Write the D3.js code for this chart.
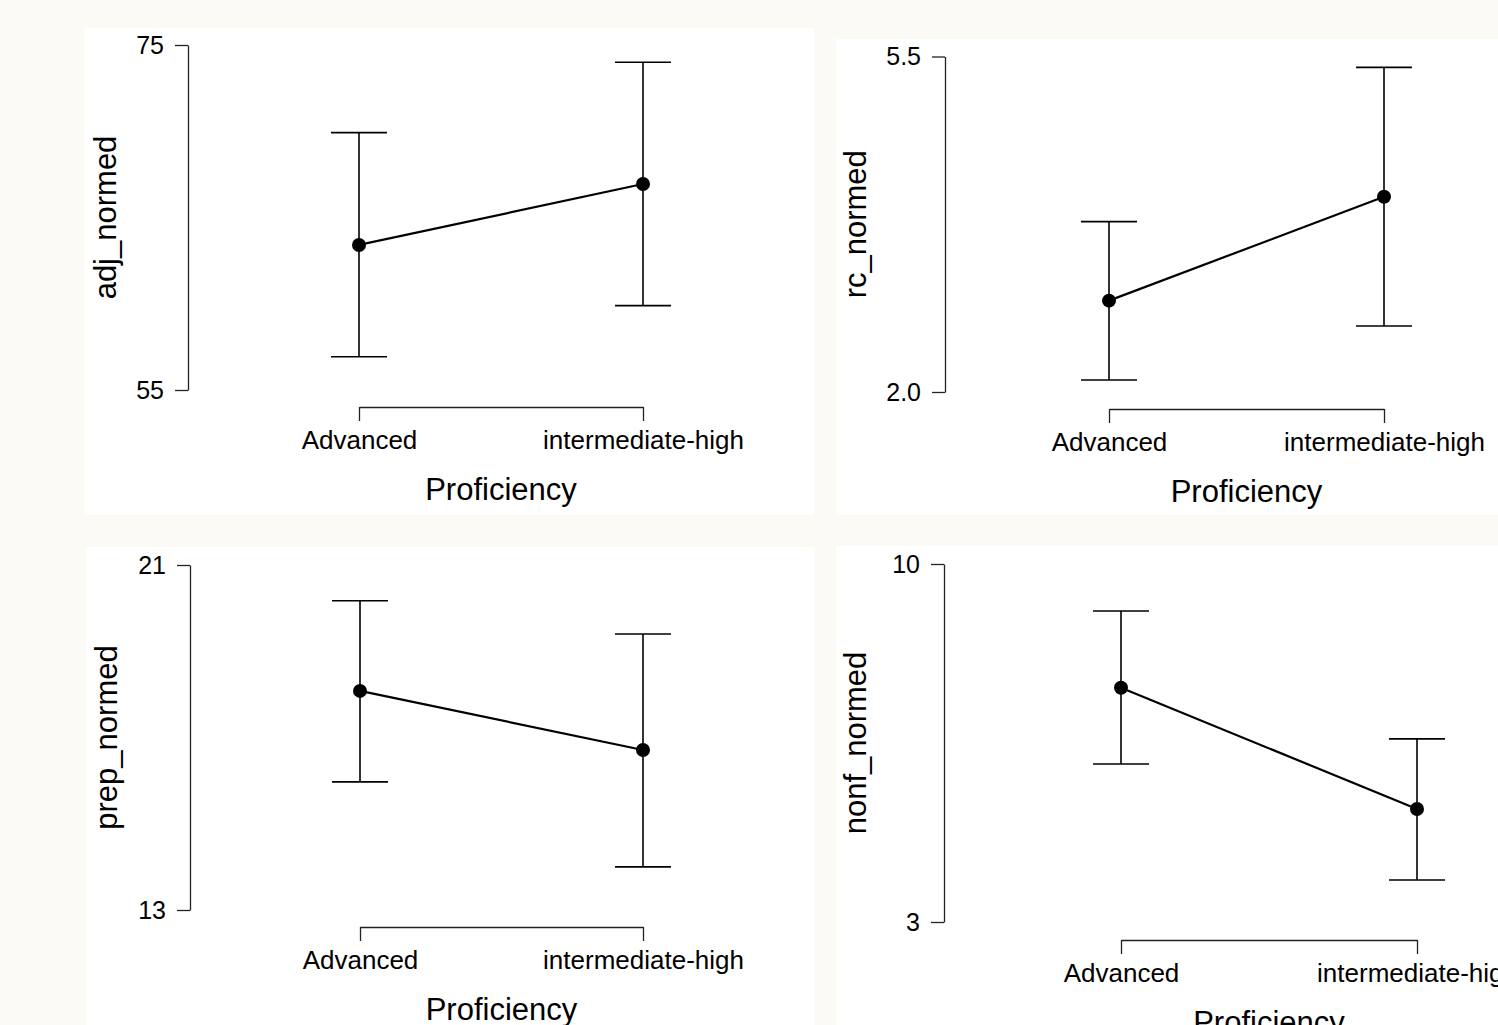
<!DOCTYPE html>
<html>
<head>
<meta charset="utf-8">
<script src="https://cdn.jsdelivr.net/npm/d3@7"></script>
<style>
  html, body { margin: 0; padding: 0; background: #fbfaf5; }
  svg { display: block; }
  text { font-family: "Liberation Sans", Arial, Helvetica, sans-serif; fill: #000; }
</style>
</head>
<body>
<script>
// data
var categories = ["Advanced", "intermediate-high"];
var xTitle = "Proficiency";

var adjMean  = [63.41, 66.94];
var adjLower = [56.93, 59.89];
var adjUpper = [69.92, 74.00];
var adjTicks = [55, 75];

var rcMean  = [2.953, 4.037];
var rcLower = [2.125, 2.689];
var rcUpper = [3.777, 5.387];
var rcTicks = [2.0, 5.5];

var prepMean  = [18.08, 16.71];
var prepLower = [15.97, 14.00];
var prepUpper = [20.17, 19.40];
var prepTicks = [13, 21];

var nonfMean  = [7.58, 5.21];
var nonfLower = [6.09, 3.82];
var nonfUpper = [9.08, 6.58];
var nonfTicks = [3, 10];

(function(window){
    'use strict'

    var W = 1498, H = 1025;

    // panel layout (page pixels)
    var panels = [
        {name: "adj_normed", mean: adjMean, lo: adjLower, hi: adjUpper, ticks: adjTicks, fmt: "d",
         box: [84, 28, 730, 487], axisX: 188, top: 45, bottom: 390, xa: 359, xb: 643, bracket: 407, titleOff: 72},
        {name: "rc_normed", mean: rcMean, lo: rcLower, hi: rcUpper, ticks: rcTicks, fmt: ".1f",
         box: [836, 39, 700, 476], axisX: 945, top: 56.5, bottom: 392, xa: 1109, xb: 1384, bracket: 409, titleOff: 79},
        {name: "prep_normed", mean: prepMean, lo: prepLower, hi: prepUpper, ticks: prepTicks, fmt: "d",
         box: [86, 547, 728, 500], axisX: 190, top: 565, bottom: 910, xa: 360, xb: 643, bracket: 927, titleOff: 73},
        {name: "nonf_normed", mean: nonfMean, lo: nonfLower, hi: nonfUpper, ticks: nonfTicks, fmt: "d",
         box: [836, 546, 700, 500], axisX: 944, top: 564, bottom: 922, xa: 1121, xb: 1417, bracket: 940, titleOff: 78}
    ];

    var svg = d3.select("body").append("svg")
        .attr("width", W)
        .attr("height", H);

    svg.append("rect")
        .attr("width", W).attr("height", H)
        .attr("fill", "#fbfaf5");

    function drawPanel(p) {
        var g = svg.append("g").attr("class", "panel");

        g.append("rect")
            .attr("x", p.box[0]).attr("y", p.box[1])
            .attr("width", p.box[2]).attr("height", p.box[3])
            .attr("fill", "#ffffff");

        var y = d3.scaleLinear()
            .domain([p.ticks[0], p.ticks[p.ticks.length - 1]])
            .range([p.bottom, p.top]);

        var x = d3.scalePoint()
            .domain(categories)
            .range([p.xa, p.xb]);

        // y axis
        var yAxis = d3.axisLeft(y)
            .tickValues(p.ticks)
            .tickSize(13)
            .tickPadding(11)
            .tickSizeOuter(0)
            .tickFormat(d3.format(p.fmt));

        var ya = g.append("g")
            .attr("transform", "translate(" + p.axisX + ",0)")
            .call(yAxis);
        ya.select(".domain").attr("stroke", "#222").attr("stroke-width", 1.3);
        ya.selectAll(".tick line").attr("stroke", "#222").attr("stroke-width", 1.3);
        ya.selectAll(".tick text")
            .attr("font-size", 25)
            .attr("font-family", "Liberation Sans, Arial, sans-serif")
            .attr("fill", "#000");

        // x axis as a bracket between the categories
        var xAxis = d3.axisBottom(x)
            .tickSize(14)
            .tickPadding(10)
            .tickSizeOuter(0);

        var xa = g.append("g")
            .attr("transform", "translate(0," + p.bracket + ")")
            .call(xAxis);
        xa.select(".domain").attr("stroke", "#222").attr("stroke-width", 1.3);
        xa.selectAll(".tick line").attr("stroke", "#222").attr("stroke-width", 1.3);
        xa.selectAll(".tick text")
            .attr("font-size", 26)
            .attr("font-family", "Liberation Sans, Arial, sans-serif")
            .attr("fill", "#000");

        // axis titles
        g.append("text")
            .attr("x", (p.xa + p.xb) / 2)
            .attr("y", p.bracket + 93)
            .attr("text-anchor", "middle")
            .attr("font-size", 31)
            .text(xTitle);

        g.append("text")
            .attr("transform", "translate(" + (p.axisX - p.titleOff) + "," + ((p.top + p.bottom) / 2) + ") rotate(-90)")
            .attr("text-anchor", "middle")
            .attr("font-size", 31)
            .text(p.name);

        // error bars
        var rows = categories.map(function(c, i) {
            return {cat: c, m: p.mean[i], lo: p.lo[i], hi: p.hi[i]};
        });

        var eb = g.selectAll("g.err").data(rows).enter().append("g").attr("class", "err");
        eb.append("line")
            .attr("x1", function(d){ return x(d.cat); })
            .attr("x2", function(d){ return x(d.cat); })
            .attr("y1", function(d){ return y(d.lo); })
            .attr("y2", function(d){ return y(d.hi); })
            .attr("stroke", "#000").attr("stroke-width", 1.6);
        ["lo", "hi"].forEach(function(k) {
            eb.append("line")
                .attr("x1", function(d){ return x(d.cat) - 28; })
                .attr("x2", function(d){ return x(d.cat) + 28; })
                .attr("y1", function(d){ return y(d[k]); })
                .attr("y2", function(d){ return y(d[k]); })
                .attr("stroke", "#000").attr("stroke-width", 1.6);
        });

        // mean line and points
        var line = d3.line()
            .x(function(d){ return x(d.cat); })
            .y(function(d){ return y(d.m); });

        g.append("path")
            .datum(rows)
            .attr("d", line)
            .attr("fill", "none")
            .attr("stroke", "#000")
            .attr("stroke-width", 2.2);

        g.selectAll("circle.pt").data(rows).enter().append("circle")
            .attr("class", "pt")
            .attr("cx", function(d){ return x(d.cat); })
            .attr("cy", function(d){ return y(d.m); })
            .attr("r", 7)
            .attr("fill", "#000");
    }

    panels.forEach(drawPanel);

})(window);
</script>
</body>
</html>
